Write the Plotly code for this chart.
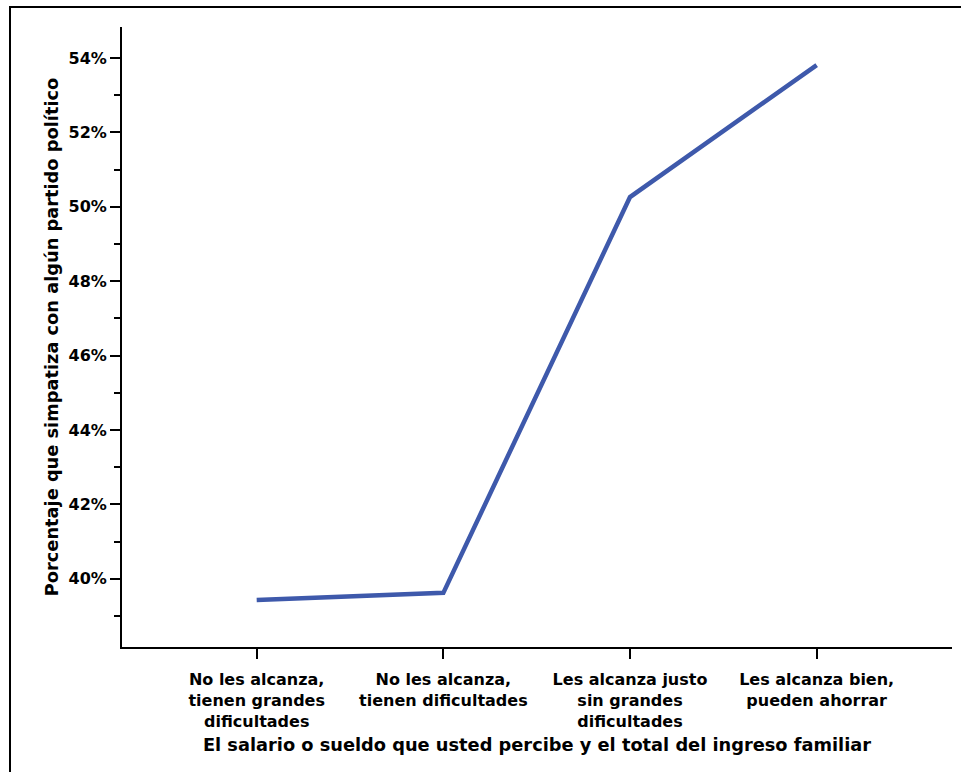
import plotly.graph_objects as go

categories = [
    "No les alcanza,<br>tienen grandes<br>dificultades",
    "No les alcanza,<br>tienen dificultades",
    "Les alcanza justo<br>sin grandes<br>dificultades",
    "Les alcanza bien,<br>pueden ahorrar",
]
values = [39.43, 39.62, 50.26, 53.81]
y_tick_vals = [40, 42, 44, 46, 48, 50, 52, 54]
y_tick_text = ["40%", "42%", "44%", "46%", "48%", "50%", "52%", "54%"]

x_title = "El salario o sueldo que usted percibe y el total del ingreso familiar"
y_title = "Porcentaje que simpatiza con algún partido político"

W, H = 961, 772
L, R, T, B = 122, 9, 27, 125
pw, ph = W - L - R, H - T - B

FAM = "DejaVu Sans, Liberation Sans, Arial, sans-serif"
tick_font = dict(family=FAM, size=16, color="black", weight="bold")
title_font = dict(family=FAM, size=17.8, color="black", weight="bold")

fig = go.Figure()
fig.add_trace(go.Scatter(
    x=list(range(len(categories))), y=values, mode="lines",
    line=dict(color="#3E59AB", width=4.5),
    hoverinfo="skip", showlegend=False,
))

fig.update_layout(
    template="none",
    width=W, height=H,
    margin=dict(l=L, r=R, t=T, b=B, pad=0, autoexpand=False),
    paper_bgcolor="white", plot_bgcolor="white",
    font=tick_font,
    showlegend=False,
    xaxis=dict(
        automargin=False,
        range=[-0.7216, 3.725],
        tickmode="array", tickvals=list(range(len(categories))), ticktext=categories,
        showgrid=False, zeroline=False,
        showline=True, linecolor="black", linewidth=2,
        ticks="outside", ticklen=10, tickwidth=2, tickcolor="black",
        ticklabelstandoff=7,
        tickfont=tick_font,
        title=dict(text=x_title, standoff=9, font=title_font),
    ),
    yaxis=dict(
        automargin=False,
        range=[38.164, 54.833],
        tickmode="array", tickvals=y_tick_vals, ticktext=y_tick_text,
        showgrid=False, zeroline=False,
        showline=True, linecolor="black", linewidth=2,
        ticks="outside", ticklen=10, tickwidth=2, tickcolor="black",
        minor=dict(ticks="outside", ticklen=6, tickwidth=1.5, tickcolor="black",
                   dtick=1, tick0=39, showgrid=False),
        tickfont=tick_font,
        title=dict(text=y_title, standoff=5, font=title_font),
    ),
    shapes=[dict(
        type="rect", xref="paper", yref="paper",
        x0=(10 - L) / pw, x1=(W + 20 - L) / pw,
        y0=-(B + 20) / ph, y1=(H - B - 7) / ph,
        line=dict(color="black", width=2), fillcolor="rgba(0,0,0,0)",
    )],
)

fig.write_html(
    "out.html",
    config={"displayModeBar": False},
    post_script="document.body.style.margin='0';document.body.style.padding='0';document.body.style.overflow='hidden';",
)
